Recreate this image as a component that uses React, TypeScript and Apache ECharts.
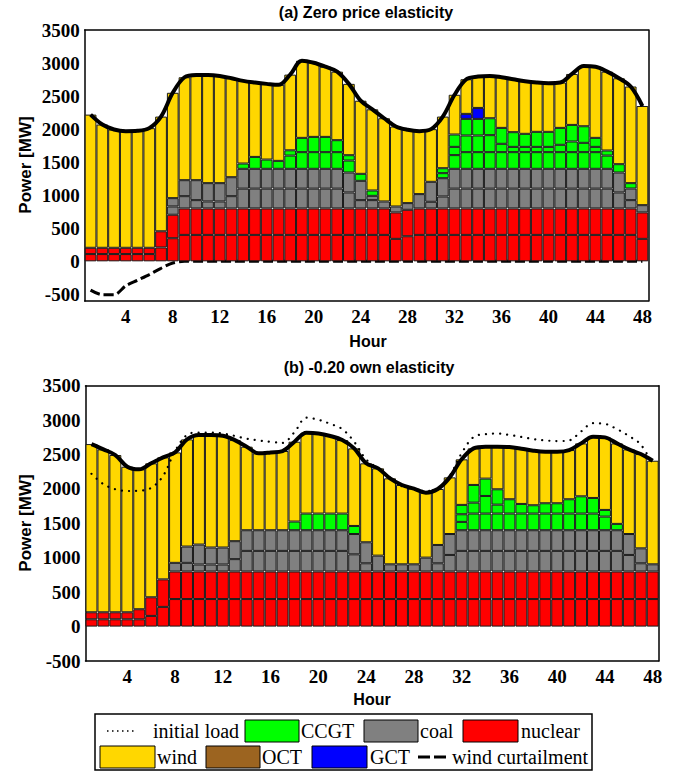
import React, { useEffect, useRef } from "react";
import * as echarts from "echarts";

const hours = ["1","2","3","4","5","6","7","8","9","10","11","12","13","14","15","16","17","18","19","20","21","22","23","24","25","26","27","28","29","30","31","32","33","34","35","36","37","38","39","40","41","42","43","44","45","46","47","48"];
const yTicks = [-500, 0, 500, 1000, 1500, 2000, 2500, 3000, 3500];

// ---------- (a) Zero price elasticity ----------
const loadA = [
  2220, 2070, 1995, 1970, 1975, 2015, 2190, 2550, 2785, 2820, 2820, 2805,
  2770, 2730, 2705, 2685, 2670, 2825, 3035, 3005, 2945, 2870, 2685, 2430,
  2300, 2165, 2040, 1990, 1970, 2000, 2190, 2520, 2755, 2795, 2805, 2785,
  2755, 2725, 2705, 2695, 2705, 2835, 2955, 2945, 2870, 2770, 2645, 2350,
];
const curtA = [
  -435, -505, -505, -370, -285, -200, -105, -25, 0, 0, 0, 0,
  0, 0, 0, 0, 0, 0, 0, 0, 0, 0, 0, 0,
  0, 0, 0, 0, 0, 0, 0, 0, 0, 0, 0, 0,
  0, 0, 0, 0, 0, 0, 0, 0, 0, 0, 0, 0,
];
const nucA1 = [
  110, 110, 110, 110, 110, 110, 210, 350, 400, 400, 400, 400,
  400, 400, 400, 400, 400, 400, 400, 400, 400, 400, 400, 400,
  400, 400, 340, 380, 400, 400, 400, 400, 400, 400, 400, 400,
  400, 400, 400, 400, 400, 400, 400, 400, 400, 400, 400, 340,
];
const nucA2 = [
  95, 95, 95, 95, 95, 95, 245, 355, 400, 400, 400, 400,
  400, 400, 400, 400, 400, 400, 400, 400, 400, 400, 400, 400,
  400, 400, 400, 400, 400, 400, 400, 400, 400, 400, 400, 400,
  400, 400, 400, 400, 400, 400, 400, 400, 400, 400, 400, 400,
];
const coalA1 = [
  0, 0, 0, 0, 0, 0, 0, 125, 186, 126, 106, 106,
  186, 300, 300, 300, 300, 300, 300, 300, 300, 300, 242, 126,
  126, 106, 90, 101, 217, 101, 181, 300, 300, 300, 300, 300,
  300, 300, 300, 300, 300, 300, 300, 300, 300, 242, 126, 110,
];
const coalA2 = [
  0, 0, 0, 0, 0, 0, 0, 126, 242, 302, 277, 277,
  287, 300, 300, 300, 300, 300, 300, 300, 300, 300, 302, 292,
  65, 0, 0, 0, 0, 302, 277, 300, 300, 300, 300, 300,
  300, 300, 300, 300, 300, 300, 300, 300, 300, 302, 176, 0,
];
const ccgtA1 = [
  0, 0, 0, 0, 0, 0, 0, 0, 0, 0, 0, 0,
  0, 80, 180, 140, 120, 200, 252, 252, 252, 252, 181, 106,
  81, 0, 0, 0, 0, 0, 76, 207, 252, 252, 252, 252,
  252, 252, 252, 252, 252, 252, 252, 252, 200, 126, 81, 0,
];
const ccgtA2 = [
  0, 0, 0, 0, 0, 0, 0, 0, 0, 0, 0, 0,
  0, 0, 0, 0, 0, 80, 216, 231, 231, 181, 81, 0,
  0, 0, 0, 0, 0, 0, 75, 125, 252, 252, 257, 126,
  80, 80, 80, 80, 111, 161, 141, 80, 77, 0, 0, 0,
];
const ccgtA3 = [
  0, 0, 0, 0, 0, 0, 0, 0, 0, 0, 0, 0,
  0, 0, 0, 0, 0, 0, 0, 0, 0, 0, 0, 0,
  0, 0, 0, 0, 0, 0, 0, 187, 251, 251, 256, 241,
  222, 197, 227, 227, 256, 251, 251, 136, 0, 0, 0, 0,
];
const gctA = [
  0, 0, 0, 0, 0, 0, 0, 0, 0, 0, 0, 0,
  0, 0, 0, 0, 0, 0, 0, 0, 0, 0, 0, 0,
  0, 0, 0, 0, 0, 0, 0, 0, 76, 166, 0, 0,
  0, 0, 0, 0, 0, 0, 0, 0, 0, 0, 0, 0,
];

// ---------- (b) -0.20 own elasticity ----------
const loadB = [
  2652, 2575, 2493, 2323, 2285, 2372, 2459, 2531, 2720, 2783, 2783, 2773,
  2710, 2614, 2517, 2531, 2551, 2686, 2817, 2807, 2769, 2710, 2589, 2372,
  2299, 2154, 2057, 2004, 1946, 1999, 2168, 2430, 2589, 2614, 2614, 2609,
  2585, 2556, 2541, 2541, 2565, 2662, 2759, 2749, 2662, 2575, 2507, 2410,
];
const nucB1 = [
  106, 106, 106, 106, 106, 155, 286, 400, 400, 400, 400, 400,
  400, 400, 400, 400, 400, 400, 400, 400, 400, 400, 400, 400,
  400, 400, 400, 400, 400, 400, 400, 400, 400, 400, 400, 400,
  400, 400, 400, 400, 400, 400, 400, 400, 400, 400, 400, 400,
];
const nucB2 = [
  102, 102, 102, 102, 146, 271, 400, 400, 400, 400, 400, 400,
  400, 400, 400, 400, 400, 400, 400, 400, 400, 400, 400, 400,
  400, 400, 400, 400, 400, 400, 400, 400, 400, 400, 400, 400,
  400, 400, 400, 400, 400, 400, 400, 400, 400, 400, 400, 400,
];
const coalB1 = [
  0, 0, 0, 0, 0, 0, 0, 126, 126, 102, 102, 102,
  180, 300, 300, 300, 300, 300, 300, 300, 300, 300, 250, 120,
  231, 105, 105, 105, 202, 120, 241, 300, 300, 300, 300, 300,
  300, 300, 300, 300, 300, 300, 300, 300, 300, 241, 120, 105,
];
const coalB2 = [
  0, 0, 0, 0, 0, 0, 0, 0, 237, 290, 247, 247,
  261, 300, 300, 300, 300, 300, 300, 300, 300, 300, 295, 305,
  0, 0, 0, 0, 0, 266, 304, 300, 300, 300, 300, 300,
  300, 300, 300, 300, 300, 300, 300, 300, 300, 304, 217, 0,
];
const ccgtB1 = [
  0, 0, 0, 0, 0, 0, 0, 0, 0, 0, 0, 0,
  0, 0, 0, 0, 0, 126, 242, 242, 242, 242, 117, 0,
  0, 0, 0, 0, 0, 0, 0, 121, 242, 242, 242, 242,
  242, 242, 242, 242, 242, 242, 242, 198, 92, 0, 0, 0,
];
const ccgtB2 = [
  0, 0, 0, 0, 0, 0, 0, 0, 0, 0, 0, 0,
  0, 0, 0, 0, 0, 0, 0, 0, 0, 0, 0, 0,
  0, 0, 0, 0, 0, 0, 0, 111, 159, 256, 130, 208,
  140, 121, 150, 150, 208, 251, 227, 97, 0, 0, 0, 0,
];
const ccgtB3 = [
  0, 0, 0, 0, 0, 0, 0, 0, 0, 0, 0, 0,
  0, 0, 0, 0, 0, 0, 0, 0, 0, 0, 0, 0,
  0, 0, 0, 0, 0, 0, 0, 136, 257, 252, 223, 0,
  0, 0, 0, 0, 0, 0, 0, 0, 0, 0, 0, 0,
];

const C = {
  wind: "#FFD700",
  ccgt: "#00FF00",
  coal: "#808080",
  nuclear: "#FF0000",
  oct: "#9C6420",
  gct: "#0000FF",
};

const SERIF_NAME = "Liberation Serif";
const SERIF = '"Liberation Serif", serif';
const SANS = '"Liberation Sans", sans-serif';

function buildOption() {
  const tickFn = (i: number) => (i + 1) % 4 === 0;
  const axisLine = { show: true, onZero: false, lineStyle: { color: "#000", width: 1.5 } };
  const labelStyle = { color: "#000", fontFamily: SERIF_NAME, fontWeight: "bold" as const, fontSize: 19 };

  const grids = [
    { left: 84.7, top: 30, width: 563.6, height: 271 },
    { left: 85.5, top: 385.7, width: 573.2, height: 275.3 },
  ];

  const xAxis: any[] = [];
  const yAxis: any[] = [];
  const ranges = [
    { min: -600, max: 3500 },
    { min: -500, max: 3500 },
  ];
  grids.forEach((_, g) => {
    xAxis.push({
      type: "category", gridIndex: g, data: hours, position: "bottom", boundaryGap: true,
      axisLine, splitLine: { show: false },
      axisTick: { inside: true, alignWithLabel: true, interval: tickFn, length: 5, lineStyle: { color: "#000" } },
      axisLabel: { interval: tickFn, margin: g === 0 ? 6 : 6, ...labelStyle },
    });
    xAxis.push({
      type: "category", gridIndex: g, data: hours, position: "top", boundaryGap: true,
      axisLine, splitLine: { show: false },
      axisTick: { inside: true, alignWithLabel: true, interval: tickFn, length: 5, lineStyle: { color: "#000" } },
      axisLabel: { show: false },
    });
    yAxis.push({
      type: "value", gridIndex: g, position: "left", min: ranges[g].min, max: ranges[g].max,
      axisLine, splitLine: { show: false },
      axisTick: { inside: true, length: 5, customValues: yTicks, lineStyle: { color: "#000" } },
      axisLabel: { customValues: yTicks, margin: 5, formatter: (v: number) => String(v), ...labelStyle },
    });
    yAxis.push({
      type: "value", gridIndex: g, position: "right", min: ranges[g].min, max: ranges[g].max,
      axisLine, splitLine: { show: false },
      axisTick: { inside: true, length: 5, customValues: yTicks, lineStyle: { color: "#000" } },
      axisLabel: { show: false },
    });
  });

  const toData = (arr: number[]) => arr.map((v) => (v === 0 ? "-" : v));
  const bar = (name: string, data: number[], color: string, g: number) => ({
    name, type: "bar", stack: "s" + g, xAxisIndex: g * 2, yAxisIndex: g * 2,
    data: toData(data), barCategoryGap: "0%", barGap: "0%",
    itemStyle: { color, borderColor: "#1a1a1a", borderWidth: 1 },
    emphasis: { disabled: true }, z: 2,
  });

  const units = [
    { a: nucA1, b: nucB1, c: C.nuclear, n: "nuclear1" },
    { a: nucA2, b: nucB2, c: C.nuclear, n: "nuclear2" },
    { a: coalA1, b: coalB1, c: C.coal, n: "coal1" },
    { a: coalA2, b: coalB2, c: C.coal, n: "coal2" },
    { a: ccgtA1, b: ccgtB1, c: C.ccgt, n: "ccgt1" },
    { a: ccgtA2, b: ccgtB2, c: C.ccgt, n: "ccgt2" },
    { a: ccgtA3, b: ccgtB3, c: C.ccgt, n: "ccgt3" },
  ];

  const windA = loadA.map((l, i) => l - units.reduce((s, u) => s + u.a[i], 0) - gctA[i]);
  const windB = loadB.map((l, i) => l - units.reduce((s, u) => s + u.b[i], 0));

  const series: any[] = [];
  units.forEach((u) => series.push(bar(u.n + "A", u.a, u.c, 0)));
  series.push(bar("gctA", gctA, C.gct, 0));
  series.push(bar("windA", windA, C.wind, 0));
  units.forEach((u) => series.push(bar(u.n + "B", u.b, u.c, 1)));
  series.push(bar("windB", windB, C.wind, 1));

  series.push({
    type: "line", xAxisIndex: 0, yAxisIndex: 0, data: curtA, showSymbol: false, smooth: 0.3,
    lineStyle: { color: "#000", width: 3, type: [10, 4] }, z: 1, silent: true,
  });
  series.push({
    type: "line", xAxisIndex: 0, yAxisIndex: 0, data: loadA, showSymbol: false, smooth: 0.35,
    lineStyle: { color: "#000", width: 4 }, z: 5, silent: true,
  });
  series.push({
    type: "line", xAxisIndex: 2, yAxisIndex: 2, data: loadA, showSymbol: false, smooth: 0.35,
    lineStyle: { color: "#000", width: 2.2, type: [0.1, 7], cap: "round" }, z: 6, silent: true,
  });
  series.push({
    type: "line", xAxisIndex: 2, yAxisIndex: 2, data: loadB, showSymbol: false, smooth: 0.35,
    lineStyle: { color: "#000", width: 4 }, z: 5, silent: true,
  });

  const txt = (text: string, x: number, y: number, font: string, extra: any = {}) => ({
    type: "text", x, y, style: { text, font, fill: "#000", align: "left", verticalAlign: "middle", ...extra },
  });
  const box = (x: number, y: number, w: number, h: number, fill: string) => ({
    type: "rect", shape: { x, y, width: w, height: h }, style: { fill, stroke: "#000", lineWidth: 1 },
  });
  const LF = `20px ${SERIF}`;

  const graphic: any[] = [
    txt("(a) Zero price elasticity", 366, 12, `bold 16px ${SANS}`, { align: "center" }),
    txt("(b) -0.20 own elasticity", 369, 367, `bold 16px ${SANS}`, { align: "center" }),
    { ...txt("Power [MW]", 25, 165, `bold 17px ${SANS}`, { align: "center" }), rotation: Math.PI / 2 },
    { ...txt("Power [MW]", 25, 523, `bold 17px ${SANS}`, { align: "center" }), rotation: Math.PI / 2 },
    txt("Hour", 368, 341, `bold 16px ${SANS}`, { align: "center" }),
    txt("Hour", 372, 699, `bold 16px ${SANS}`, { align: "center" }),
    // legend
    { type: "rect", shape: { x: 95, y: 714, width: 497, height: 56 }, style: { fill: "#fff", stroke: "#000", lineWidth: 1.5 } },
    { type: "line", shape: { x1: 107, y1: 731, x2: 137, y2: 731 }, style: { stroke: "#000", lineWidth: 1.5, lineDash: [1.5, 3.5] } },
    txt("initial load", 153, 731, LF),
    box(245, 720, 54, 22, C.ccgt),
    txt("CCGT", 301, 731, LF),
    box(364, 720, 54, 22, C.coal),
    txt("coal", 420, 731, LF),
    box(463, 720, 55, 22, C.nuclear),
    txt("nuclear", 521, 731, LF),
    box(100, 746, 55, 22, C.wind),
    txt("wind", 157, 757, LF),
    box(206, 746, 54, 22, C.oct),
    txt("OCT", 262, 757, LF),
    box(312, 746, 55, 22, C.gct),
    txt("GCT", 370, 757, LF),
    { type: "line", shape: { x1: 418, y1: 757, x2: 448, y2: 757 }, style: { stroke: "#000", lineWidth: 3, lineDash: [12, 4] } },
    txt("wind curtailment", 452, 757, LF),
  ];

  return {
    animation: false,
    backgroundColor: "#fff",
    grid: grids,
    xAxis,
    yAxis,
    series,
    graphic,
  };
}

export default function App() {
  const ref = useRef<HTMLDivElement>(null);
  useEffect(() => {
    if (!ref.current) return;
    const chart = echarts.init(ref.current, null, { renderer: "svg" });
    chart.setOption(buildOption() as any);
    return () => chart.dispose();
  }, []);
  return (
    <div
      ref={ref}
      style={{ position: "fixed", left: 0, top: 0, width: 683, height: 771, background: "#fff" }}
    />
  );
}
